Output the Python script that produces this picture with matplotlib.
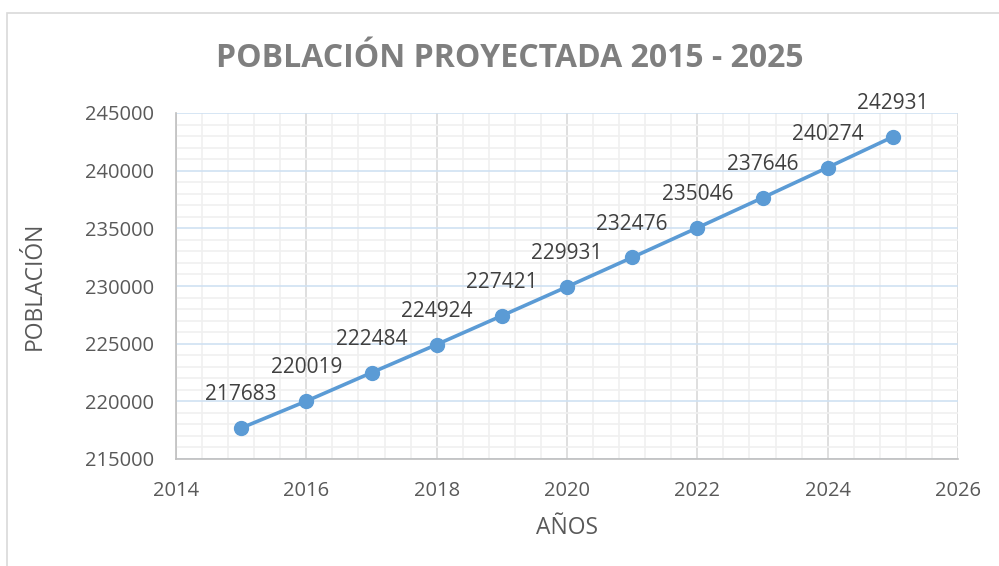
import matplotlib.pyplot as plt
from matplotlib.patches import Rectangle
from matplotlib.ticker import MultipleLocator

years = [2015, 2016, 2017, 2018, 2019, 2020, 2021, 2022, 2023, 2024, 2025]
population = [217683, 220019, 222484, 224924, 227421, 229931, 232476, 235046, 237646, 240274, 242931]
title = "POBLACIÓN PROYECTADA 2015 - 2025"
x_label = "AÑOS"
y_label = "POBLACIÓN"

plt.rcParams['font.family'] = ['Open Sans', 'DejaVu Sans']

fig = plt.figure(figsize=(9.99, 5.66), dpi=100)
ax = fig.add_axes([176/999, 1 - 459/566, (958 - 176)/999, (459 - 113)/566])

# outer chart border
fig.patches.append(Rectangle((7/999, -0.1), 1.2, 1 - 13/566 + 0.1, transform=fig.transFigure,
                             fill=False, edgecolor='#d9d9d9', linewidth=1.2))

ax.plot(years, population, color='#5b9bd5', linewidth=2.6, marker='o', markersize=10,
        zorder=5, clip_on=False)
for x, y in zip(years, population):
    ax.annotate(str(y), (x, y), xytext=(0, 24), textcoords='offset points',
                ha='center', va='center', fontsize=15, color='#404040')

ax.set_xlim(2014, 2026)
ax.set_ylim(215000, 245000)
ax.xaxis.set_major_locator(MultipleLocator(2))
ax.xaxis.set_minor_locator(MultipleLocator(0.4))
ax.yaxis.set_major_locator(MultipleLocator(5000))
ax.yaxis.set_minor_locator(MultipleLocator(1000))

ax.grid(which='minor', color='#f0f0f0', linewidth=1.2, zorder=0)
ax.grid(which='major', axis='x', color='#d9d9d9', linewidth=1.2, zorder=1)
ax.grid(which='major', axis='y', color='#d0e1f2', linewidth=1.2, zorder=1)
ax.set_axisbelow(True)

for s in ['top', 'right']:
    ax.spines[s].set_visible(False)
for s in ['left', 'bottom']:
    ax.spines[s].set_color('#bfbfbf')
    ax.spines[s].set_linewidth(1.2)

ax.tick_params(which='both', length=0, labelsize=14.5, labelcolor='#595959', pad=16)

ax.set_xlabel(x_label, fontsize=16.5, color='#595959')
ax.set_ylabel(y_label, fontsize=16.5, color='#595959')
ax.xaxis.set_label_coords(0.5, -(528 - 459) / 346)
ax.yaxis.set_label_coords(-(176 - 35) / 782, 0.5)
ax.xaxis.label.set_va('center')
ax.yaxis.label.set_va('center')

fig.text(0.51, 1 - 58/566, title, ha='center', va='center', fontsize=23,
         fontweight='bold', color='#7f7f7f')

fig.savefig('out.png', dpi=100)
